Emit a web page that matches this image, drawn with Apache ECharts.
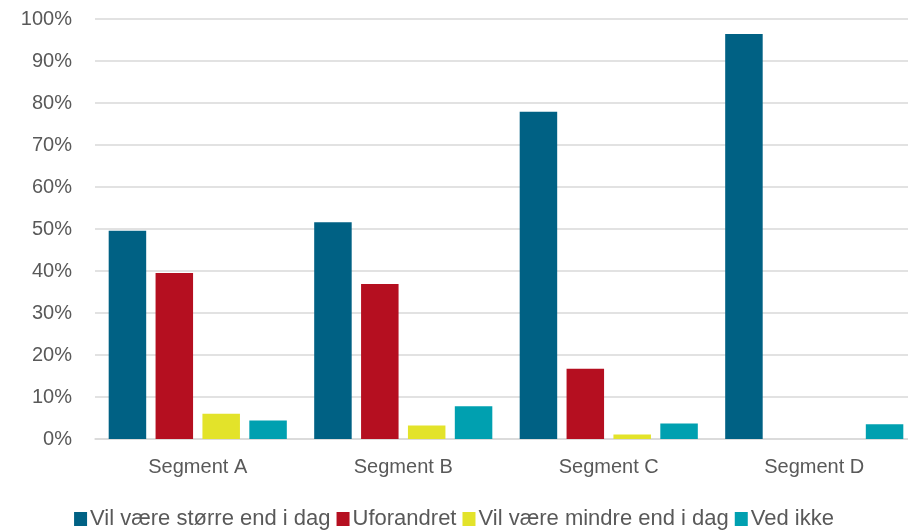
<!DOCTYPE html>
<html>
<head>
<meta charset="utf-8">
<script src="https://cdn.jsdelivr.net/npm/echarts@6/dist/echarts.min.js"></script>
<style>
html, body { margin: 0; padding: 0; background: #fff; }
#chart { width: 908px; height: 531px; }
</style>
</head>
<body>
<div id="chart"></div>
<script>
var categories = ['Segment A', 'Segment B', 'Segment C', 'Segment D'];
var seriesNames = ['Vil være større end i dag', 'Uforandret', 'Vil være mindre end i dag', 'Ved ikke'];
var storre = [49.6, 51.6, 77.9, 96.4];
var uforandret = [39.5, 36.9, 16.7, 0];
var mindre = [6.0, 3.2, 1.1, 0];
var vedIkke = [4.4, 7.8, 3.7, 3.5];
var colors = ['#006184', '#b50f20', '#e3e32a', '#00a0b0'];

var txt = '#595959';
var font = '"Liberation Sans", Arial, sans-serif';

var myChart = echarts.init(document.getElementById('chart'));
var option = {
    animation: false,
    color: colors,
    textStyle: { fontFamily: font },
    grid: { left: 95, top: 19, right: -9, bottom: 92, containLabel: false, outerBoundsMode: 'none' },
    legend: {
        data: seriesNames,
        top: 503,
        left: 'center',
        itemWidth: 13,
        itemHeight: 14,
        itemGap: 6,
        icon: 'rect',
        textStyle: { color: txt, fontSize: 22, fontFamily: font, padding: [0, 0, 0, -2] }
    },
    xAxis: {
        type: 'category',
        data: categories,
        axisTick: { show: false },
        axisLine: { lineStyle: { color: '#d9d9d9', width: 1.5 } },
        axisLabel: { color: txt, fontSize: 20, margin: 18, fontFamily: font }
    },
    yAxis: {
        type: 'value',
        min: 0,
        max: 100,
        interval: 10,
        axisLine: { show: false },
        axisTick: { show: false },
        splitLine: { lineStyle: { color: '#d9d9d9', width: 1.5 } },
        axisLabel: { color: txt, fontSize: 20, margin: 23, formatter: '{value}%', fontFamily: font }
    },
    series: [
        { name: seriesNames[0], type: 'bar', data: storre, barWidth: 37.5, barGap: '25%' },
        { name: seriesNames[1], type: 'bar', data: uforandret, barWidth: 37.5, barGap: '25%' },
        { name: seriesNames[2], type: 'bar', data: mindre, barWidth: 37.5, barGap: '25%' },
        { name: seriesNames[3], type: 'bar', data: vedIkke, barWidth: 37.5, barGap: '25%' }
    ]
};
myChart.setOption(option);
</script>
</body>
</html>
